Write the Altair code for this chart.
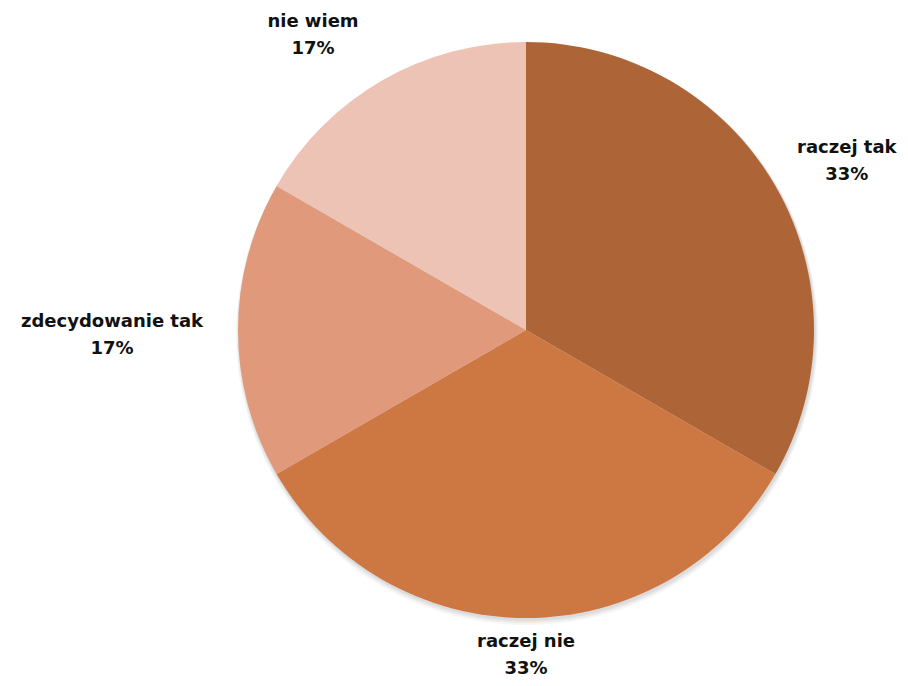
import altair as alt
import pandas as pd
import math

categories = ["raczej tak", "raczej nie", "zdecydowanie tak", "nie wiem"]
values = [2, 2, 1, 1]
pct_labels = ["33%", "33%", "17%", "17%"]
colors = ["#AD6436", "#CD7743", "#E09A7B", "#ECC3B4"]

df = pd.DataFrame({
    "cat": categories,
    "value": values,
    "pct": pct_labels,
    "order": list(range(len(categories))),
})
df["label"] = df["cat"] + "\n" + df["pct"]

CX, CY = 518, 322
R = 288

base = alt.Chart(df).encode(
    theta=alt.Theta("value:Q", stack=True),
    order=alt.Order("order:Q"),
    x=alt.value(CX),
    y=alt.value(CY),
)

shadows = []
for i, (off, op) in enumerate([(4, 0.05), (3, 0.07), (2, 0.09)]):
    shadows.append(
        alt.Chart(df.head(1)).mark_arc(
            theta=0, theta2=2 * math.pi, outerRadius=R + off - 1,
            color="#555555", opacity=op,
        ).encode(x=alt.value(CX + 1), y=alt.value(CY + off))
    )

pie = base.mark_arc(outerRadius=R).encode(
    color=alt.Color("cat:N", scale=alt.Scale(domain=categories, range=colors), legend=None),
)

offsets = {
    "raczej tak": (61, -32),
    "raczej nie": (0, 12),
    "zdecydowanie tak": (-114, -8),
    "nie wiem": (-63, -48),
}

layers = shadows + [pie]
for c in categories:
    dx, dy = offsets[c]
    layers.append(
        base.mark_text(
            radius=300, dx=dx, dy=dy, fontSize=18, fontWeight="bold",
            font="DejaVu Sans", color="#111111", lineBreak="\n", lineHeight=27,
            align="center", baseline="middle",
        ).encode(
            text="label:N",
            opacity=alt.condition(alt.datum.cat == c, alt.value(1), alt.value(0)),
        )
    )

chart = alt.layer(*layers).properties(
    width=892, height=670,
    autosize=alt.AutoSizeParams(type="fit", contains="padding"),
    padding=0,
).configure_view(stroke=None)

chart.save("out.html", embed_options={"renderer": "svg", "actions": False})
